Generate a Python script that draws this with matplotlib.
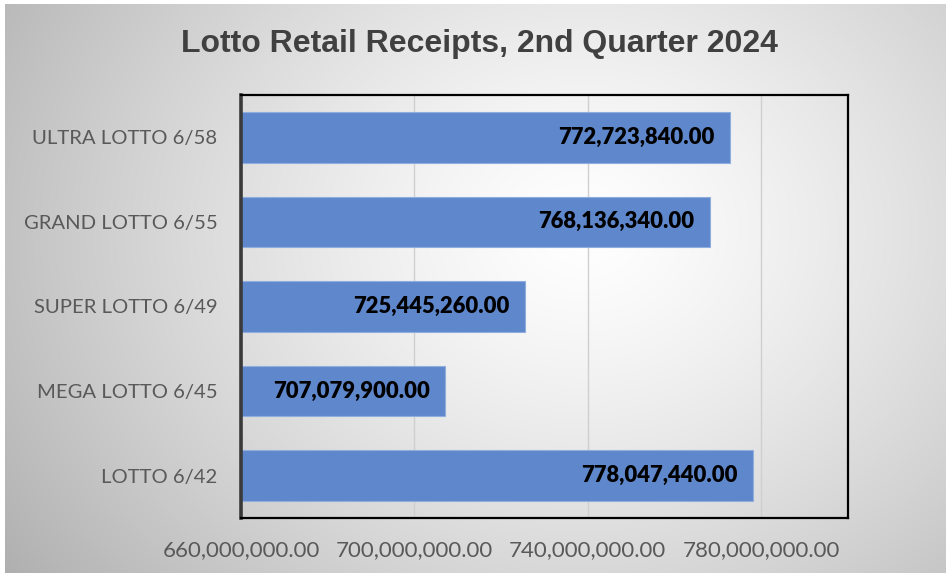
import numpy as np
import matplotlib
matplotlib.use("Agg")
import matplotlib.pyplot as plt
from matplotlib.ticker import FuncFormatter

categories = ["LOTTO 6/42", "MEGA LOTTO 6/45", "SUPER LOTTO 6/49",
              "GRAND LOTTO 6/55", "ULTRA LOTTO 6/58"]
values = [778047440.00, 707079900.00, 725445260.00, 768136340.00, 772723840.00]
xticks = [660000000, 700000000, 740000000, 780000000]
title = "Lotto Retail Receipts, 2nd Quarter 2024"

W, H = 946, 577
fig = plt.figure(figsize=(W / 100, H / 100), dpi=100)
fig.patch.set_facecolor("white")

# radial gradient background
bg = fig.add_axes([0, 0, 1, 1], zorder=-10)
bg.axis("off")
yy, xx = np.mgrid[0:H, 0:W]
cx, cy = 580, 230
r = np.sqrt(((xx - cx) / 620.0) ** 2 + ((yy - cy) / 520.0) ** 2)
v = 1.0 - 0.26 * np.clip(r, 0, 1.2) ** 1.3
img = np.dstack([v, v, v])
bg.imshow(img, extent=(5, W, 573, 4), interpolation="bilinear", aspect="auto")
bg.set_xlim(0, W)
bg.set_ylim(H, 0)

ax = fig.add_axes([241 / W, (H - 518) / H, 607 / W, 423 / H])
ax.set_facecolor("none")
y = np.arange(len(categories))
bars = ax.barh(y, values, height=0.6, color="#5F87CB", edgecolor="#8FAEE0",
               linewidth=0.8, zorder=2)
ax.set_xlim(660000000, 800000000)
ax.set_ylim(-0.5, len(categories) - 0.5)
ax.set_yticks(y)
ax.set_yticklabels(categories)
ax.set_xticks(xticks)
ax.xaxis.set_major_formatter(FuncFormatter(lambda v, p: f"{v:,.2f}"))
ax.grid(axis="x", color="#CFCFCF", linewidth=1, zorder=0)
ax.set_axisbelow(True)
ax.tick_params(length=0, labelcolor="#595959")
ax.tick_params(axis="y", pad=17, labelsize=14.6)
ax.tick_params(axis="x", pad=16, labelsize=16)
for lab in ax.get_xticklabels() + ax.get_yticklabels():
    lab.set_fontfamily("Lato")

for s in ["top", "right", "bottom"]:
    ax.spines[s].set_color("black")
    ax.spines[s].set_linewidth(1.6)
ax.spines["left"].set_color("#3A3A3A")
ax.spines["left"].set_linewidth(2.6)

for b, val in zip(bars, values):
    ax.annotate(f"{val:,.2f}", xy=(val, b.get_y() + b.get_height() / 2),
                xytext=(-11, 0), textcoords="offset points",
                ha="right", va="center", fontsize=15.8, fontweight="heavy",
                color="black", family="Lato", zorder=3)

fig.text(479 / W, 1 - 44 / H, title, ha="center", va="center",
         fontsize=23, fontweight="bold", color="#404040",
         family="Liberation Sans")

fig.savefig("out.png", dpi=100)
